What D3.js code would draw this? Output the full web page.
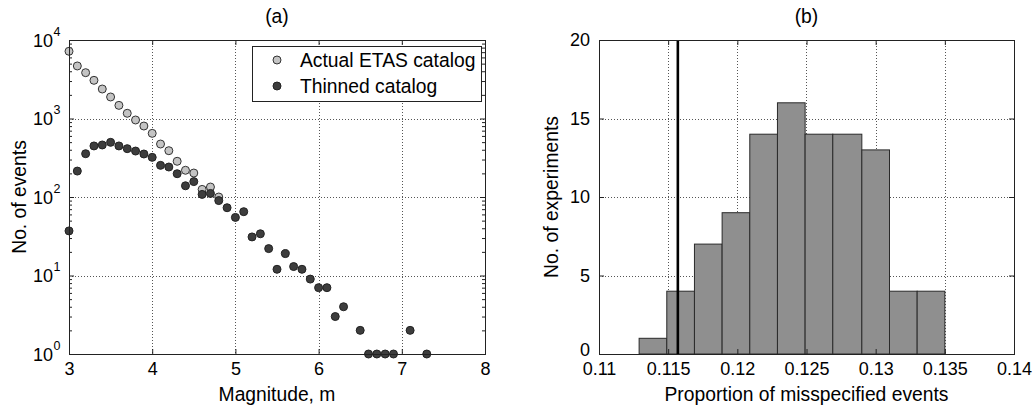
<!DOCTYPE html>
<html>
<head>
<meta charset="utf-8">
<script src="https://cdn.jsdelivr.net/npm/d3@7"></script>
<style>
  html, body { margin: 0; padding: 0; background: #fff; }
  svg { display: block; font-family: "Liberation Sans", Arial, Helvetica, sans-serif; }
</style>
</head>
<body>
<svg id="chart" width="1033" height="406"></svg>
<script>
// ---------- Data ----------
// Panel (a): frequency-magnitude distribution
const actualMag   = [3.0, 3.1, 3.2, 3.3, 3.4, 3.5, 3.6, 3.7, 3.8, 3.9, 4.0, 4.1, 4.2, 4.3, 4.4, 4.5, 4.6, 4.7, 4.8];
const actualCount = [7180, 4670, 3835, 3065, 2375, 1880, 1470, 1165, 957, 802, 647, 473, 389, 285, 219, 202, 125, 134, 100];

const thinnedMag   = [3.0, 3.1, 3.2, 3.3, 3.4, 3.5, 3.6, 3.7, 3.8, 3.9, 4.0, 4.1, 4.2, 4.3, 4.4, 4.5, 4.6, 4.7, 4.8, 4.9,
                      5.0, 5.1, 5.2, 5.3, 5.4, 5.5, 5.6, 5.7, 5.8, 5.9, 6.0, 6.1, 6.2, 6.3, 6.5, 6.6, 6.7, 6.8, 6.9, 7.1, 7.3];
const thinnedCount = [37, 214, 356, 447, 460, 497, 447, 413, 385, 353, 320, 253, 241, 198, 139, 157, 108, 111, 90, 73,
                      55, 65, 31, 34, 22, 12, 19, 13, 12, 9, 7, 7, 3, 4, 2, 1, 1, 1, 1, 2, 1];

const legendLabels = ["Actual ETAS catalog", "Thinned catalog"];
const magTicks = [3, 4, 5, 6, 7, 8];
const logTicks = [1, 10, 100, 1000, 10000];

// Panel (b): histogram of misspecified proportion
const binEdges  = [0.1129, 0.1149, 0.1169, 0.1189, 0.1209, 0.1229, 0.1249, 0.1269, 0.1290, 0.1310, 0.1330, 0.1350];
const binCounts = [1, 4, 7, 9, 14, 16, 14, 14, 13, 4, 4];
const trueProportion = [0.1157];
const propTicks = [0.11, 0.115, 0.12, 0.125, 0.13, 0.135, 0.14];
const propTickLabels = ["0.11", "0.115", "0.12", "0.125", "0.13", "0.135", "0.14"];
const countTicks = [0, 5, 10, 15, 20];

// ---------- Layout ----------
const svg = d3.select("#chart");
const FT = 18;   // tick font size
const FL = 19.3; // label font size
const yTop = 40, yBot = 354;

const gridStyle = sel => sel.attr("stroke", "#555").attr("stroke-width", 1).attr("stroke-dasharray", "1,2");

// ===== Panel (a) =====
const xa = d3.scaleLinear().domain([3, 8]).range([69, 485]);
const ya = d3.scaleLog().domain([1, 1e4]).range([yBot, yTop]);
const ga = svg.append("g");

// grid
ga.append("g").selectAll("line").data(magTicks.filter(d => d > 3 && d < 8)).join("line")
  .attr("x1", d => Math.round(xa(d)) + 0.5).attr("x2", d => Math.round(xa(d)) + 0.5)
  .attr("y1", yTop).attr("y2", yBot).call(gridStyle);
ga.append("g").selectAll("line").data(logTicks.filter(d => d > 1 && d < 1e4)).join("line")
  .attr("y1", d => Math.round(ya(d)) + 0.5).attr("y2", d => Math.round(ya(d)) + 0.5)
  .attr("x1", xa(3)).attr("x2", xa(8)).call(gridStyle);

// minor ticks values
const minor = [];
for (let k = 0; k < 4; k++) for (let m = 2; m <= 9; m++) minor.push(m * Math.pow(10, k));

// axes (inside ticks)
ga.append("g").attr("transform", `translate(0,${yBot})`)
  .call(d3.axisBottom(xa).tickValues(magTicks).tickSize(-5).tickPadding(8).tickFormat(d3.format("d")))
  .call(g => g.select(".domain").remove());
ga.append("g").attr("transform", `translate(0,${yTop})`)
  .call(d3.axisTop(xa).tickValues(magTicks).tickSize(-5).tickFormat(""))
  .call(g => g.select(".domain").remove());
ga.append("g").attr("transform", `translate(${xa(3)},0)`)
  .call(d3.axisLeft(ya).tickValues(logTicks).tickSize(-5).tickFormat(""))
  .call(g => g.select(".domain").remove());
ga.append("g").attr("transform", `translate(${xa(3)},0)`)
  .call(d3.axisLeft(ya).tickValues(minor).tickSize(-3).tickFormat(""))
  .call(g => g.select(".domain").remove());
ga.append("g").attr("transform", `translate(${xa(8)},0)`)
  .call(d3.axisRight(ya).tickValues(logTicks).tickSize(-5).tickFormat(""))
  .call(g => g.select(".domain").remove());
ga.append("g").attr("transform", `translate(${xa(8)},0)`)
  .call(d3.axisRight(ya).tickValues(minor).tickSize(-3).tickFormat(""))
  .call(g => g.select(".domain").remove());

// y tick labels with superscripts
ga.append("g").selectAll("text").data(logTicks).join("text")
  .attr("x", xa(3) - 16).attr("y", d => ya(d) + 6.5)
  .attr("text-anchor", "end").attr("font-size", FT).attr("fill", "#000")
  .text("10");
ga.append("g").selectAll("text").data(logTicks).join("text")
  .attr("x", xa(3) - 15.5).attr("y", d => ya(d) - 4.5)
  .attr("font-size", 12.5).attr("fill", "#000")
  .text(d => Math.round(Math.log10(d)));

// points
ga.append("g").selectAll("circle").data(actualMag).join("circle")
  .attr("cx", d => xa(d)).attr("cy", (d, i) => ya(actualCount[i])).attr("r", 4)
  .attr("fill", "#c4c4c4").attr("stroke", "#333").attr("stroke-width", 1);
ga.append("g").selectAll("circle").data(thinnedMag).join("circle")
  .attr("cx", d => xa(d)).attr("cy", (d, i) => ya(thinnedCount[i])).attr("r", 4)
  .attr("fill", "#3d3d3d").attr("stroke", "#222").attr("stroke-width", 1);

// box
ga.append("rect").attr("x", xa(3) + 0.5).attr("y", yTop + 0.5)
  .attr("width", xa(8) - xa(3)).attr("height", yBot - yTop)
  .attr("fill", "none").attr("stroke", "#222").attr("stroke-width", 1);

// legend
const lg = ga.append("g");
lg.append("rect").attr("x", 252.5).attr("y", 46.5).attr("width", 229).attr("height", 55)
  .attr("fill", "#fff").attr("stroke", "#222").attr("stroke-width", 1);
const legendFill = ["#c4c4c4", "#3d3d3d"];
legendLabels.forEach((lab, i) => {
  lg.append("circle").attr("cx", 277).attr("cy", 60 + i * 26).attr("r", 4)
    .attr("fill", legendFill[i]).attr("stroke", i ? "#222" : "#333");
  lg.append("text").attr("x", 300).attr("y", 67 + i * 26).attr("font-size", FL).attr("fill", "#000").text(lab);
});

// titles / labels
ga.append("text").attr("x", (xa(3) + xa(8)) / 2).attr("y", 23).attr("text-anchor", "middle")
  .attr("font-size", FL).text("(a)");
ga.append("text").attr("x", (xa(3) + xa(8)) / 2).attr("y", 401).attr("text-anchor", "middle")
  .attr("font-size", FL).text("Magnitude, m");
ga.append("text").attr("transform", `translate(25.5,${(yTop + yBot) / 2}) rotate(-90)`)
  .attr("text-anchor", "middle").attr("font-size", FL).text("No. of events");

// ===== Panel (b) =====
const xb = d3.scaleLinear().domain([0.11, 0.14]).range([599, 1014]);
const yb = d3.scaleLinear().domain([0, 20]).range([yBot, yTop]);
const gb = svg.append("g");

gb.append("g").selectAll("line").data(propTicks.filter(d => d > 0.11 && d < 0.14)).join("line")
  .attr("x1", d => Math.round(xb(d)) + 0.5).attr("x2", d => Math.round(xb(d)) + 0.5)
  .attr("y1", yTop).attr("y2", yBot).call(gridStyle);
gb.append("g").selectAll("line").data(countTicks.filter(d => d > 0 && d < 20)).join("line")
  .attr("y1", d => Math.round(yb(d)) + 0.5).attr("y2", d => Math.round(yb(d)) + 0.5)
  .attr("x1", xb(0.11)).attr("x2", xb(0.14)).call(gridStyle);

// bars
gb.append("g").selectAll("rect").data(binCounts).join("rect")
  .attr("x", (d, i) => xb(binEdges[i]))
  .attr("width", (d, i) => xb(binEdges[i + 1]) - xb(binEdges[i]))
  .attr("y", d => yb(d)).attr("height", d => yb(0) - yb(d))
  .attr("fill", "#8f8f8f").attr("stroke", "#2a2a2a").attr("stroke-width", 1);

// vertical reference line
gb.append("g").selectAll("line").data(trueProportion).join("line")
  .attr("x1", d => xb(d)).attr("x2", d => xb(d)).attr("y1", yTop).attr("y2", yBot)
  .attr("stroke", "#000").attr("stroke-width", 2.6);

// axes
gb.append("g").attr("transform", `translate(0,${yBot})`)
  .call(d3.axisBottom(xb).tickValues(propTicks).tickSize(-5).tickPadding(8).tickFormat((d, i) => propTickLabels[i]))
  .call(g => g.select(".domain").remove());
gb.append("g").attr("transform", `translate(0,${yTop})`)
  .call(d3.axisTop(xb).tickValues(propTicks).tickSize(-5).tickFormat(""))
  .call(g => g.select(".domain").remove());
gb.append("g").attr("transform", `translate(${xb(0.11)},0)`)
  .call(d3.axisLeft(yb).tickValues(countTicks).tickSize(-5).tickPadding(9).tickFormat(d3.format("d")))
  .call(g => g.select(".domain").remove())
  .call(g => g.selectAll(".tick text").filter(d => d === 0).attr("dy", "0.1em"));
gb.append("g").attr("transform", `translate(${xb(0.14)},0)`)
  .call(d3.axisRight(yb).tickValues(countTicks).tickSize(-5).tickFormat(""))
  .call(g => g.select(".domain").remove());

gb.append("rect").attr("x", xb(0.11) + 0.5).attr("y", yTop + 0.5)
  .attr("width", xb(0.14) - xb(0.11)).attr("height", yBot - yTop)
  .attr("fill", "none").attr("stroke", "#222").attr("stroke-width", 1);

gb.append("text").attr("x", (xb(0.11) + xb(0.14)) / 2).attr("y", 23).attr("text-anchor", "middle")
  .attr("font-size", FL).text("(b)");
gb.append("text").attr("x", (xb(0.11) + xb(0.14)) / 2).attr("y", 401).attr("text-anchor", "middle")
  .attr("font-size", FL).text("Proportion of misspecified events");
gb.append("text").attr("transform", `translate(558,${(yTop + yBot) / 2}) rotate(-90)`)
  .attr("text-anchor", "middle").attr("font-size", FL).text("No. of experiments");

// tick styling
svg.selectAll(".tick line").attr("stroke", "#222");
svg.selectAll(".tick text").attr("font-size", FT).attr("fill", "#000")
  .attr("font-family", "'Liberation Sans', Arial, sans-serif");
</script>
</body>
</html>
